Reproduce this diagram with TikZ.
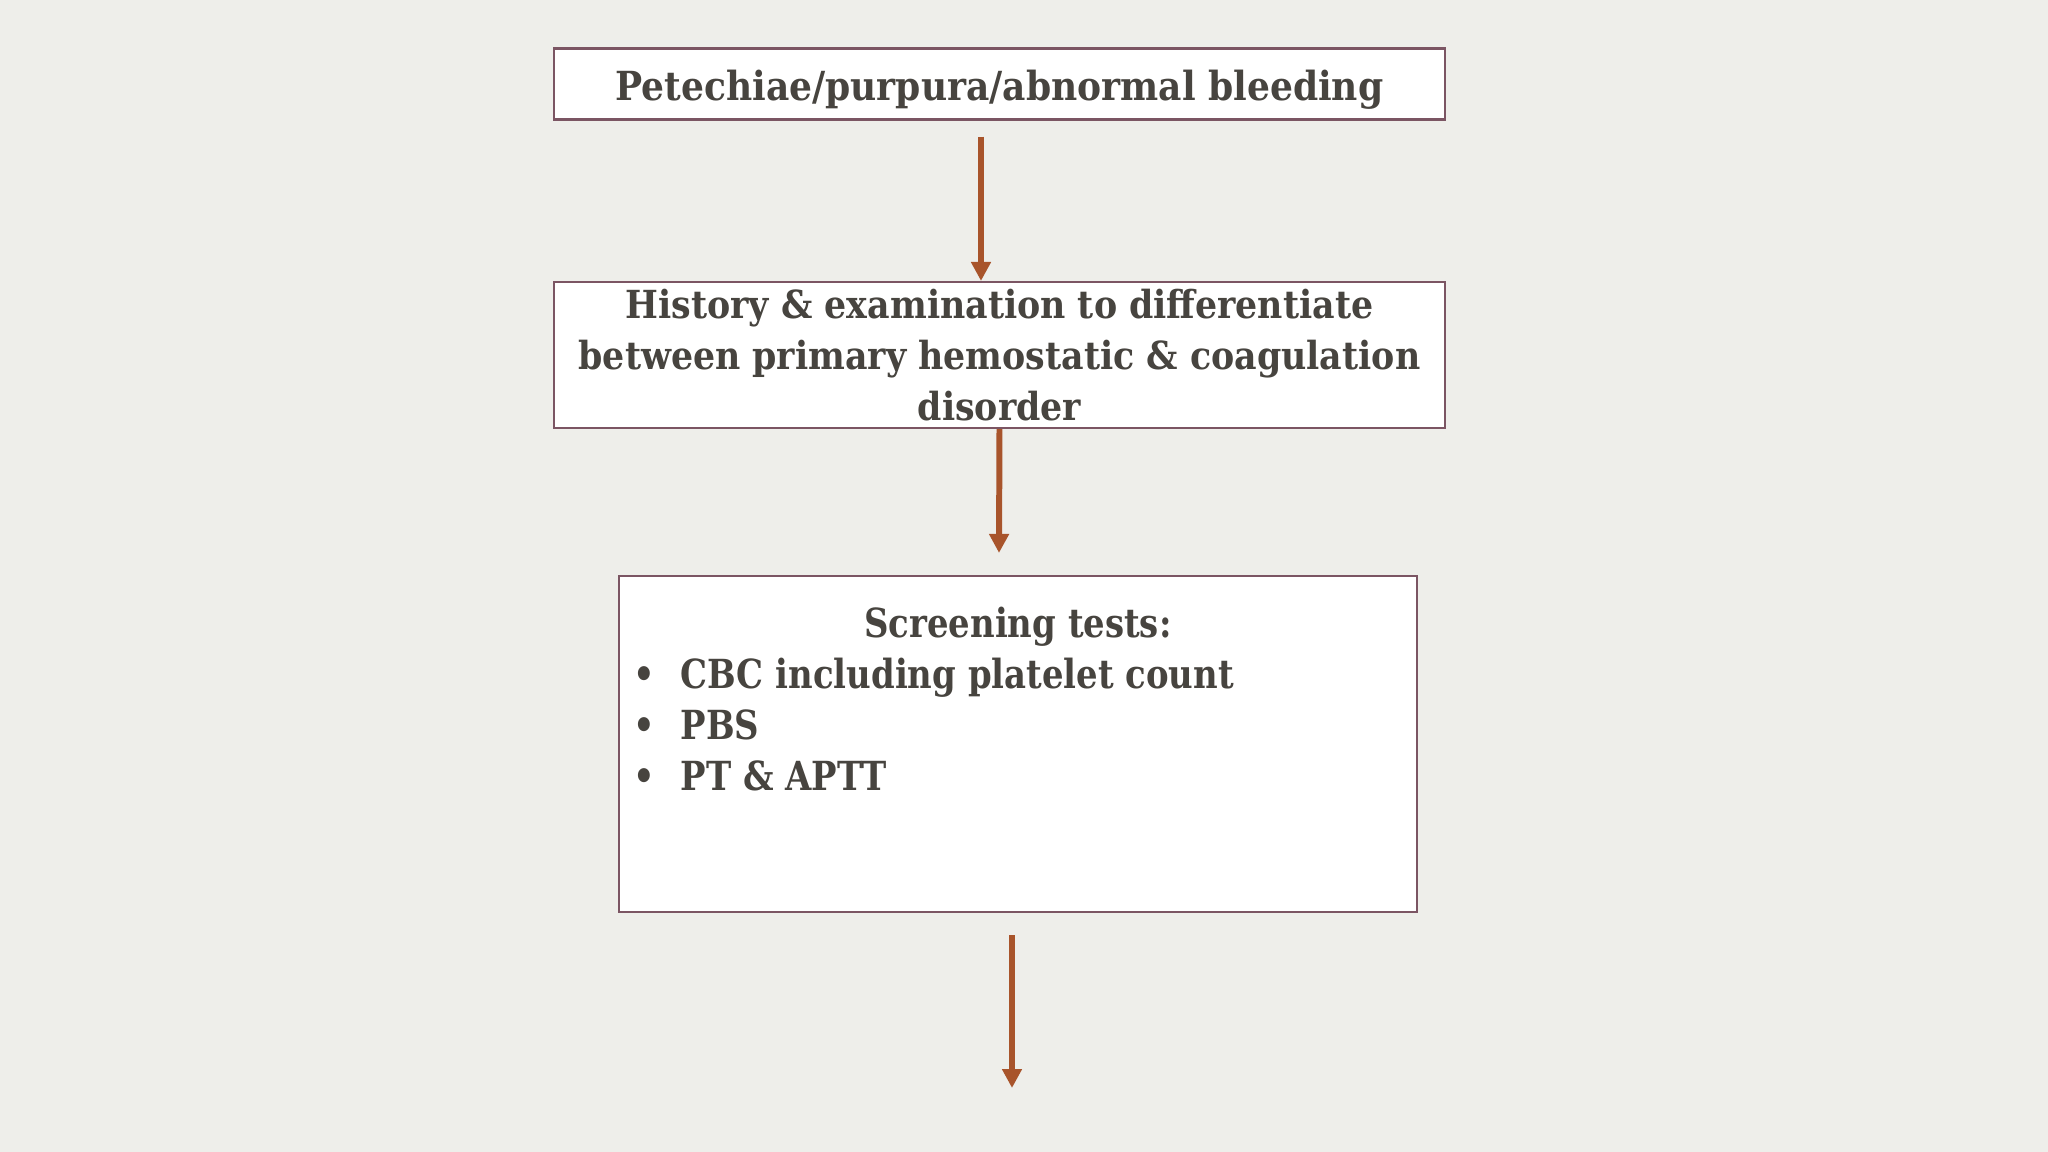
\documentclass[tikz,border=0pt]{standalone}
\usepackage{fontspec}
\setmainfont{DejaVu Serif Condensed}
\newfontfamily\narrowfont[FakeStretch=0.94]{DejaVu Serif Condensed}
\usetikzlibrary{arrows.meta,positioning}
\definecolor{paper}{HTML}{EEEEEA}
\definecolor{boxline}{HTML}{7B5563}
\definecolor{ink}{HTML}{47443F}
\definecolor{rust}{HTML}{A8542B}

\tikzset{
  flowbox/.style={draw=boxline, line width=0.6pt, fill=white, inner sep=0pt,
    text=ink, font=\fontsize{11.4}{14.5}\selectfont\bfseries},
  flow/.style={draw=rust, line width=1.7pt, -{Triangle[width=5.4pt,length=5.4pt]}},
  listtext/.style={text=ink, inner sep=0pt, align=left,
    font=\narrowfont\fontsize{11.4}{14.5}\selectfont\bfseries}
}

\begin{document}
\begin{tikzpicture}
\useasboundingbox[fill=paper] (0,0) rectangle (20.48,11.52);

\node[flowbox, minimum width=8.91cm, text height=0.52cm, text depth=0.19cm] (bleed) at (9.995,10.68)
      {Petechiae/purpura/abnormal bleeding};
\node[flowbox, minimum width=8.91cm, minimum height=1.46cm, align=center,
      font=\fontsize{11}{14.5}\selectfont\bfseries]
      (history) at (9.995,7.97)
      {History \& examination to differentiate\\
       between primary hemostatic \& coagulation\\
       disorder};
\node[flowbox, minimum width=7.98cm, minimum height=3.36cm] (screen) at (10.18,4.08) {};

\node[listtext] (heading) at ([yshift=-5.2mm]screen.north) {Screening tests:};
\node[listtext, anchor=west] (tests) at ([xshift=1.5mm,yshift=1.9mm]screen.west)
      {\makebox[0.47cm][l]{\textbullet}CBC including platelet count\\
       \makebox[0.47cm][l]{\textbullet}PBS\\
       \makebox[0.47cm][l]{\textbullet}PT \& APTT};

\coordinate (next) at (10.12,0.64);

\draw[flow] ([xshift=-1.85mm,yshift=-1.6mm]bleed.south) -- ([xshift=-1.85mm]history.north);
\draw[flow] (history.south) -- ([xshift=-1.9mm,yshift=2.2mm]screen.north);
\draw[flow] ([xshift=-0.6mm,yshift=-2.2mm]screen.south) -- (next);
\end{tikzpicture}
\end{document}
